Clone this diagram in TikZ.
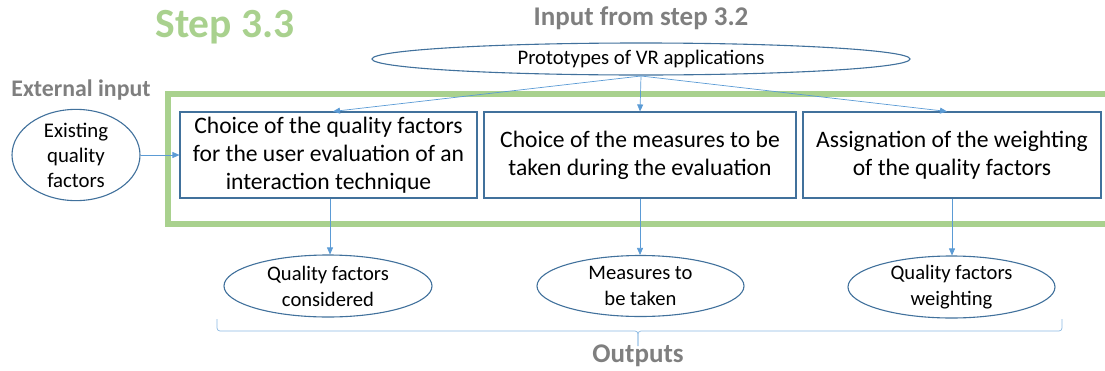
\documentclass[tikz,border=0pt]{standalone}
\usepackage{fontspec}
\setmainfont{Carlito}
\usetikzlibrary{arrows.meta}
\definecolor{bordblue}{HTML}{41719C}
\definecolor{arrblue}{HTML}{5B9BD5}
\definecolor{stepgreen}{HTML}{A9D18E}
\definecolor{labgrey}{HTML}{7F7F7F}
\tikzset{
  procbox/.style={draw=bordblue, line width=1.1pt, fill=white, align=center, inner sep=0pt, font=\fontsize{23.6}{28}\selectfont},
  ovalnode/.style={draw=bordblue, line width=1.1pt, fill=white, ellipse, align=center, inner sep=0pt, font=\fontsize{20.6}{26}\selectfont},
  conn/.style={draw=arrblue, line width=0.7pt, -{Triangle[length=7pt,width=6pt]}},
  greylabel/.style={text=labgrey, font=\bfseries\fontsize{27}{30}\selectfont},
}
\usetikzlibrary{shapes.geometric}
\begin{document}
\begin{tikzpicture}[x=1pt,y=-1pt]
\useasboundingbox (0,0) rectangle (1105,370);
\begin{scope}
\clip (0,0) rectangle (1105,370);
\node[draw=stepgreen, line width=6pt, minimum width=950pt, minimum height=130pt, inner sep=0pt, anchor=north west] (frame) at (165,91) {};
\end{scope}
\node[text=stepgreen, font=\bfseries\fontsize{41.5}{44}\selectfont] (step) at (225,27) {Step 3.3};
\node[greylabel] (inlab) at (641,18) {Input from step 3.2};
\node[greylabel, font=\bfseries\fontsize{23.8}{26}\selectfont] (extlab) at (81,90) {External input};
\node[greylabel] (outlab) at (638,356) {Outputs};

\node[ovalnode, minimum width=538pt, minimum height=32pt, font=\fontsize{20.7}{24}\selectfont] (proto) at (641,59) {Prototypes of VR applications};
\node[ovalnode, minimum width=128pt, minimum height=86pt, font=\fontsize{20.8}{25}\selectfont] (exist) at (76,155) {Existing\\quality\\factors};

\node[procbox, minimum width=297pt, minimum height=86pt] (b1) at (328.5,155) {Choice of the quality factors\\for the user evaluation of an\\interaction technique};
\node[procbox, minimum width=312pt, minimum height=86pt] (b2) at (640,155) {Choice of the measures to be\\taken during the evaluation};
\node[procbox, minimum width=298pt, minimum height=86pt] (b3) at (952,155) {Assignation of the weighting\\of the quality factors};

\node[ovalnode, minimum width=208pt, minimum height=62pt] (o1) at (328,286) {Quality factors\\considered};
\node[ovalnode, minimum width=207pt, minimum height=61pt] (o2) at (640.5,286) {Measures to\\be taken};
\node[ovalnode, minimum width=207pt, minimum height=61pt] (o3) at (951.5,287) {Quality factors\\weighting};

\coordinate (ps) at (641,76);
\draw[conn] (ps) -- (b1.north -| 333,0);
\draw[conn] (ps) -- (b2.north);
\draw[conn] (ps) -- (b3.north -| 947,0);
\draw[conn] (exist.east) -- (b1.west);
\draw[conn] (b1.south -| 330,0) -- (o1.north -| 330,0);
\draw[conn] (b2.south) -- (o2.north -| 640,0);
\draw[conn] (b3.south) -- (o3.north -| 952,0);

\coordinate (bl) at (217,319);
\coordinate (br) at (1062,319);
\coordinate (bt) at (638,346);
\draw[draw=arrblue!70, line width=0.7pt] (bl) -- (217,328) arc[start angle=180,end angle=270,radius=3pt] -- (635,331) arc[start angle=90,end angle=0,radius=3pt] -- (bt);
\draw[draw=arrblue!70, line width=0.7pt] (br) -- (1062,328) arc[start angle=0,end angle=-90,radius=3pt] -- (641,331) arc[start angle=90,end angle=180,radius=3pt] -- (bt);
\end{tikzpicture}
\end{document}
